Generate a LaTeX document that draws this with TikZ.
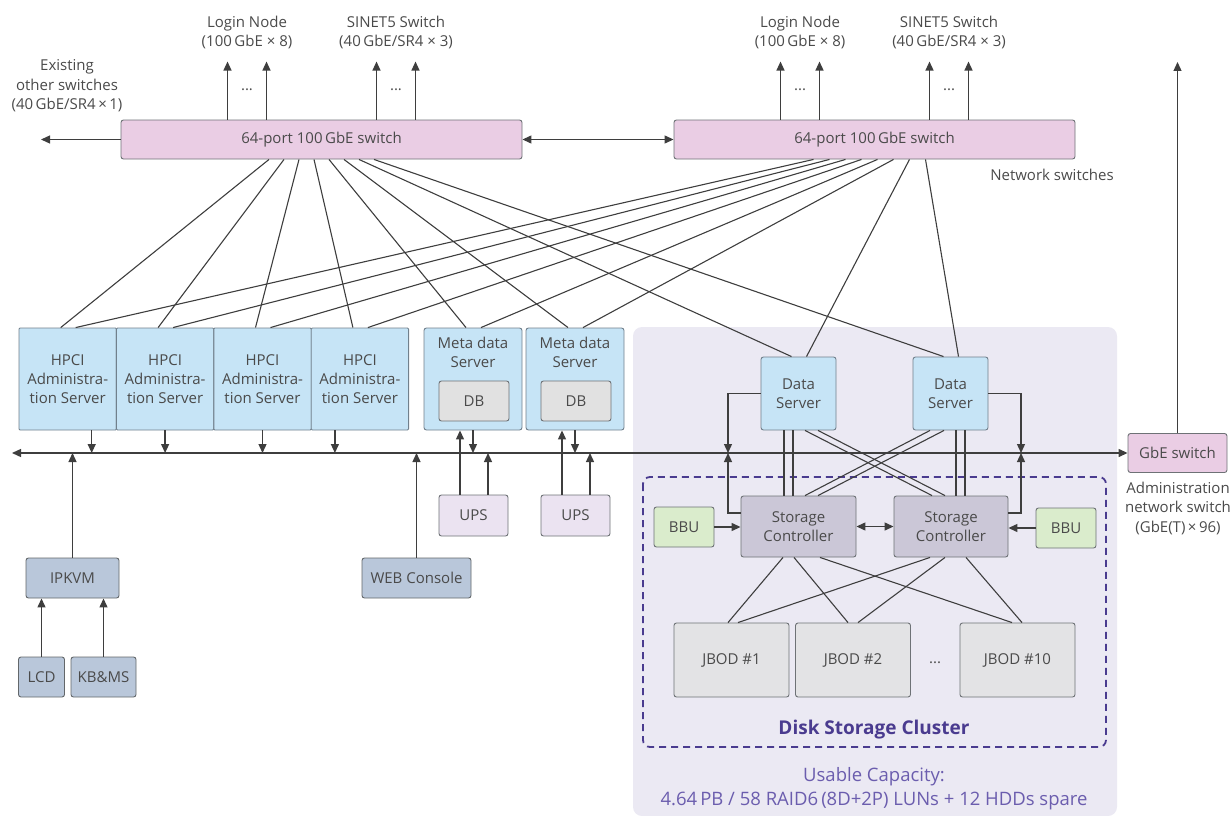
\documentclass[tikz,border=0pt]{standalone}
\usepackage{fontspec}
\setmainfont{Open Sans}
\usetikzlibrary{arrows.meta}

\definecolor{ink}{HTML}{3E3E3E}
\definecolor{txt}{HTML}{4A4A4A}
\definecolor{edge}{HTML}{6E7276}
\definecolor{swfill}{HTML}{EACDE4}
\definecolor{srvfill}{HTML}{C6E4F6}
\definecolor{srvedge}{HTML}{71808C}
\definecolor{dbfill}{HTML}{E1E1E1}
\definecolor{upsfill}{HTML}{EBE3F1}
\definecolor{kvmfill}{HTML}{B9C7DA}
\definecolor{bbufill}{HTML}{DAECCC}
\definecolor{scfill}{HTML}{CBC7D7}
\definecolor{jbodfill}{HTML}{E3E3E5}
\definecolor{clusterbg}{HTML}{EBE9F3}
\definecolor{clusterline}{HTML}{4A3B8F}
\definecolor{captxt}{HTML}{6B5DAE}

\tikzset{
box/.style={draw=edge, line width=0.9pt, rounded corners=2.5pt, align=center,
  text=txt, inner sep=0pt, font=\fontsize{15}{18.7}\selectfont}, % common look of all boxes
switchbox/.style={box, fill=swfill},
srvbox/.style={box, draw=srvedge, fill=srvfill},
dbbox/.style={box, fill=dbfill},
upsbox/.style={box, fill=upsfill, minimum width=69pt, minimum height=41pt},
kvmbox/.style={box, draw=edge!90!black, fill=kvmfill, minimum height=40pt},
bbubox/.style={box, fill=bbufill, minimum width=60pt, minimum height=40pt},
ctrlbox/.style={box, fill=scfill, minimum width=115pt, minimum height=61pt},
jbodbox/.style={box, fill=jbodfill, minimum width=115pt, minimum height=74pt},
lbl/.style={align=center, text=txt, inner sep=0pt, font=\fontsize{15}{19.5}\selectfont},
toplbl/.style={lbl, anchor=north, yshift=-9pt},
conn/.style={draw=ink, line width=1.3pt},
link/.style={draw=ink, line width=1.1pt},
}

\begin{document}
\begin{tikzpicture}[x=1pt, y=-1pt, >={Triangle[length=9pt,width=8pt]}]
\useasboundingbox (0,0) rectangle (1231,816);

% storage area
\fill[clusterbg, rounded corners=9pt] (633,327) rectangle (1117,816);
\draw[clusterline, line width=1.8pt, dash pattern=on 7pt off 5pt, rounded corners=7pt]
  (643,477) rectangle (1106,747);

% network switches
\node[switchbox, minimum width=401pt, minimum height=39pt] (swL) at (321.5,139.5) {64-port 100\,GbE switch};
\node[switchbox, minimum width=401pt, minimum height=39pt] (swR) at (874.5,139.5) {64-port 100\,GbE switch};
\node[lbl] (netlbl) at (1052,175) {Network switches};
\node[lbl] (exist) at (67,86) {Existing\\other switches\\(40\,GbE/SR4\,×\,1)};

\foreach \s in {swL,swR} {
  \foreach \d in {-94,-55,55,94}
    \draw[->, conn] ([xshift=\d]\s.north) -- ++(0,-58);
  \node[lbl] at ([xshift=-74.5, yshift=87]\s.north) {Login Node\\(100\,GbE × 8)};
  \node[lbl] at ([xshift=74.5, yshift=87]\s.north) {SINET5 Switch\\(40\,GbE/SR4 × 3)};
  \node[lbl] at ([xshift=-74.5, yshift=30]\s.north) {...};
  \node[lbl] at ([xshift=74.5, yshift=30]\s.north) {...};
}
\coordinate (extL) at (41,139.5);
\draw[->, conn] (swL.west) -- (extL);
\draw[<->, conn] (swL.east) -- (swR.west);

% servers
\foreach \i/\x in {1/67.7,2/165.1,3/262.5,4/359.9}
  \node[srvbox, rounded corners=1pt, minimum width=97.4pt, minimum height=102pt] (hpci\i) at (\x,379) {HPCI\\Administra-\\tion Server};
\node[srvbox, minimum width=98pt, minimum height=102pt, label={[toplbl]north:{Meta data\\Server}}] (meta1) at (473,379) {};
\node[srvbox, minimum width=98pt, minimum height=102pt, label={[toplbl]north:{Meta data\\Server}}] (meta2) at (575,379) {};
\node[dbbox, minimum width=70pt, minimum height=40pt] (db1) at (474,401) {DB};
\node[dbbox, minimum width=70pt, minimum height=40pt] (db2) at (576,401) {DB};
\node[srvbox, minimum width=75pt, minimum height=73pt] (ds1) at (798.5,393.5) {Data\\Server};
\node[srvbox, minimum width=75pt, minimum height=73pt] (ds2) at (950.5,393.5) {Data\\Server};

% switch to server links
\foreach \n [count=\i] in {hpci1,hpci2,hpci3,hpci4,meta1,meta2,ds1,ds2} {
  \draw[link] ([xshift={-67.5+15*\i}]swL.south) -- ([xshift=-7]\n.north);
  \draw[link] ([xshift={-77+16*\i}]swR.south) -- ([xshift=8]\n.north);
}

% administration network
\node[switchbox, minimum width=99pt, minimum height=39pt] (gbe) at (1177.5,453) {GbE switch};
\node[lbl] (gbelbl) at (1178,508) {Administration\\network switch\\(GbE(T)\,×\,96)};
\coordinate (gbeTop) at (1177.5,62);
\draw[->, conn] (gbe.north) -- (gbeTop);
\coordinate (busL) at (12,453);
\draw[<->, conn] (busL) -- (gbe.west);

\foreach \i/\d in {1/24,2/0,3/0,4/-25}
  \draw[->, conn] ([xshift=\d]hpci\i.south) -- ([xshift=\d]hpci\i.south |- busL);

\node[upsbox] (ups1) at (473.5,515.5) {UPS};
\node[upsbox] (ups2) at (575.5,515.5) {UPS};
\foreach \u/\m in {ups1/meta1,ups2/meta2} {
  \draw[->, conn] ([xshift=-13.5]\u.north) -- ([xshift=-13.5]\u.north |- \m.south);
  \draw[->, conn] ([xshift=14.5]\u.north) -- ([xshift=14.5]\u.north |- busL);
  \draw[->, conn] (\m.south) -- (\m.south |- busL);
}

\node[kvmbox, minimum width=93pt] (ipkvm) at (72.5,578) {IPKVM};
\node[kvmbox, minimum width=46pt] (lcd) at (41.5,677) {LCD};
\node[kvmbox, minimum width=65pt] (kbms) at (103.5,677) {KB\&MS};
\node[kvmbox, minimum width=109pt] (web) at (416.5,578) {WEB Console};
\draw[->, conn] (ipkvm.north) -- (ipkvm.north |- busL);
\draw[->, conn] (lcd.north) -- (lcd.north |- ipkvm.south);
\draw[->, conn] (kbms.north) -- (kbms.north |- ipkvm.south);
\draw[->, conn] (web.north) -- (web.north |- busL);

% disk storage cluster
\node[ctrlbox] (sc1) at (798.5,526.5) {Storage\\Controller};
\node[ctrlbox, minimum width=114pt] (sc2) at (951,526.5) {Storage\\Controller};
\node[bbubox] (bbu1) at (684,527) {BBU};
\node[bbubox] (bbu2) at (1066,528) {BBU};
\draw[->, conn] (bbu1.east) -- (bbu1.east -| sc1.west);
\draw[->, conn] (bbu2.west) -- (bbu2.west -| sc2.east);
\draw[<->, conn] (sc1.east) -- (sc2.west);

\coordinate (sideL) at (728,453);
\coordinate (sideR) at (1021,453);
\draw[->, conn] (ds1.west) -| (sideL);
\draw[->, conn] ([yshift=13.5]sc1.west) -| (sideL);
\draw[->, conn] (ds2.east) -| (sideR);
\draw[->, conn] ([yshift=13.5]sc2.east) -| (sideR);

\foreach \d in {-14.5,-5.5}
  \draw[link] ([xshift=\d]ds1.south) -- ([xshift=\d]ds1.south |- sc1.north);
\foreach \d in {5.5,14.5}
  \draw[link] ([xshift=\d]ds2.south) -- ([xshift=\d]ds2.south |- sc2.north);
\draw[link] ([xshift=6.5]ds1.south) -- ([xshift=-19]sc2.north);
\draw[link] ([xshift=19.5]ds1.south) -- ([xshift=-6]sc2.north);
\draw[link] ([xshift=-20.5]ds2.south) -- ([xshift=6.5]sc1.north);
\draw[link] ([xshift=-6.5]ds2.south) -- ([xshift=19.5]sc1.north);

\node[jbodbox] (jbod1) at (731.5,660) {JBOD \#1};
\node[jbodbox] (jbod2) at (853,660) {JBOD \#2};
\node[jbodbox] (jbod10) at (1017.5,660) {JBOD \#10};
\node[lbl] (jdots) at (935,663) {...};

\draw[link] ([xshift=-15.5]sc1.south) -- ([xshift=-3.5]jbod1.north);
\draw[link] ([xshift=-4.5]sc1.south) -- ([xshift=-5]jbod2.north);
\draw[link] ([xshift=21.5]sc1.south) -- ([xshift=-5.5]jbod10.north);
\draw[link] ([xshift=-21]sc2.south) -- ([xshift=6.5]jbod1.north);
\draw[link] ([xshift=-6]sc2.south) -- ([xshift=5]jbod2.north);
\draw[link] ([xshift=15]sc2.south) -- ([xshift=4.5]jbod10.north);

\node[font=\fontsize{19}{22}\selectfont\bfseries, text=clusterline] (dsc) at (874,730) {Disk Storage Cluster};
\node[align=center, text=captxt, font=\fontsize{18.5}{24}\selectfont] (cap) at (874,789)
  {Usable Capacity:\\4.64\,PB / 58 RAID6\,(8D+2P) LUNs + 12 HDDs spare};
\end{tikzpicture}
\end{document}
